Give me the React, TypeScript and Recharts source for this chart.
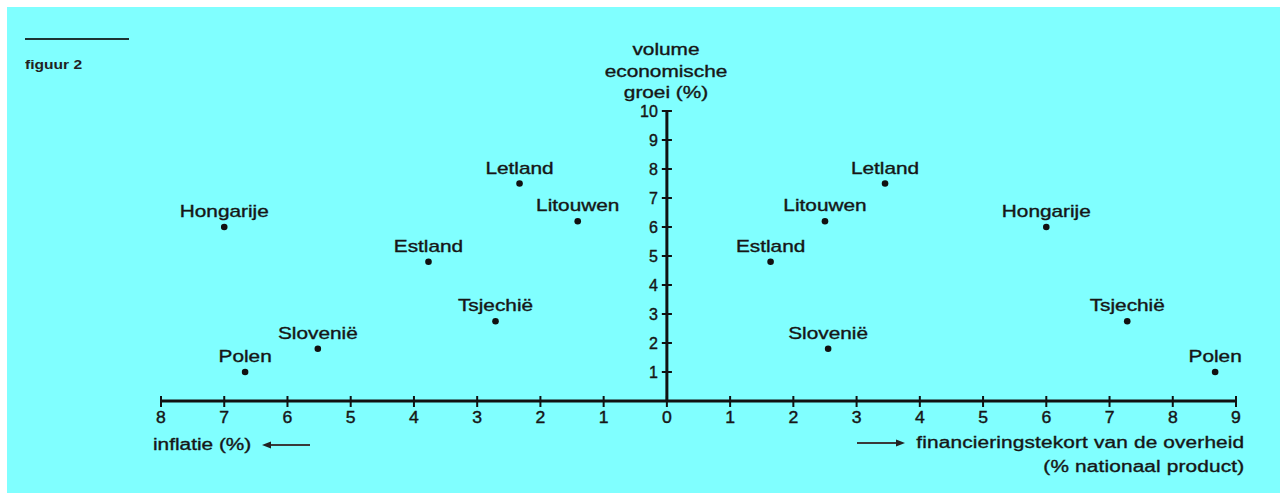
import { ReferenceLine, Scatter, ScatterChart, XAxis, YAxis } from "recharts";

const countries = ["Hongarije", "Polen", "Slovenië", "Estland", "Tsjechië", "Letland", "Litouwen"];
const growth = [6.0, 1.0, 1.8, 4.8, 2.75, 7.5, 6.2];
const inflation = [7.0, 6.67, 5.52, 3.77, 2.71, 2.33, 1.41];
const deficit = [6.0, 8.67, 2.55, 1.64, 7.28, 3.45, 2.5];

const xTicks = [-8, -7, -6, -5, -4, -3, -2, -1, 0, 1, 2, 3, 4, 5, 6, 7, 8, 9];
const yTicks = [1, 2, 3, 4, 5, 6, 7, 8, 9, 10];

const inflationPoints = countries.map((name, i) => ({ name, x: -inflation[i], y: growth[i] }));
const deficitPoints = countries.map((name, i) => ({ name, x: deficit[i], y: growth[i] }));

const FONT = '"Liberation Sans", Arial, Helvetica, sans-serif';
const INK = "#161616";
const AXIS = "#111";
const STRETCH = 1.3;

// the scan is stretched sideways, so the lettering is widened instead of spaced
const wide = (origin: string) => ({
  fontFamily: FONT,
  fontSize: 16,
  color: INK,
  whiteSpace: "nowrap" as const,
  WebkitTextStroke: "0.35px #161616",
  transform: `scaleX(${STRETCH})`,
  transformOrigin: origin,
});

function CountryDot(props: any) {
  const { cx, cy, payload } = props;
  return (
    <g>
      <circle cx={cx} cy={cy} r={3.3} fill={AXIS} />
      <text
        transform={`translate(${cx} ${cy - 10}) scale(${STRETCH} 1)`}
        textAnchor="middle"
        fontFamily={FONT}
        fontSize={16}
        fill={INK}
        stroke={INK}
        strokeWidth={0.35}
      >
        {payload.name}
      </text>
    </g>
  );
}

function XTick(props: any) {
  const { x, y, payload } = props;
  return (
    <g>
      <line x1={x} x2={x} y1={y - 5} y2={y + 6} stroke={AXIS} strokeWidth={2} />
      <text
        transform={`translate(${x} ${y + 22}) scale(1.1 1)`}
        textAnchor="middle"
        fontFamily={FONT}
        fontSize={16}
        fill={INK}
        stroke={INK}
        strokeWidth={0.4}
      >
        {Math.abs(payload.value)}
      </text>
    </g>
  );
}

function YTickLabel(props: any) {
  const { viewBox, value } = props;
  return (
    <text
      x={viewBox.x - 4}
      y={viewBox.y + 5.5}
      textAnchor="end"
      fontFamily={FONT}
      fontSize={16}
      fill={INK}
      stroke={INK}
      strokeWidth={0.4}
    >
      {value}
    </text>
  );
}

function Arrow({ dir }: { dir: "left" | "right" }) {
  return (
    <svg width={48} height={10} style={{ display: "block" }}>
      {dir === "left" ? (
        <>
          <line x1={6} x2={48} y1={5} y2={5} stroke="#3a3a3a" strokeWidth={2} />
          <polygon points="0,5 9,1.5 9,8.5" fill="#222" />
        </>
      ) : (
        <>
          <line x1={0} x2={42} y1={5} y2={5} stroke="#3a3a3a" strokeWidth={2} />
          <polygon points="48,5 39,1.5 39,8.5" fill="#222" />
        </>
      )}
    </svg>
  );
}

export default function App() {
  return (
    <div
      style={{
        position: "fixed",
        left: 7,
        top: 7,
        width: 1273,
        height: 486,
        background: "#80ffff",
        overflow: "hidden",
      }}
    >
      <div style={{ position: "absolute", left: 18, top: 31, width: 104, height: 2, background: "#1c3434" }} />
      <div
        style={{
          position: "absolute",
          left: 18,
          top: 51,
          fontFamily: FONT,
          fontSize: 12,
          fontWeight: 700,
          lineHeight: "14px",
          color: "#222",
          transform: "scaleX(1.3)",
          transformOrigin: "left center",
          whiteSpace: "nowrap",
        }}
      >
        figuur 2
      </div>

      <div
        style={{
          ...wide("center top"),
          position: "absolute",
          left: 558,
          top: 32,
          width: 202,
          textAlign: "center",
          lineHeight: "21.5px",
        }}
      >
        volume
        <br />
        economische
        <br />
        groei (%)
      </div>

      <ScatterChart width={1273} height={486} margin={{ top: 104, right: 44, left: 154, bottom: 62 }}>
        <XAxis
          type="number"
          dataKey="x"
          domain={[-8, 9]}
          ticks={xTicks}
          interval={0}
          height={30}
          tickSize={0}
          tickMargin={0}
          tickLine={false}
          axisLine={{ stroke: AXIS, strokeWidth: 3 }}
          tick={<XTick />}
        />
        <YAxis type="number" dataKey="y" domain={[0, 10]} hide width={0} />
        <ReferenceLine x={0} stroke={AXIS} strokeWidth={3} />
        {yTicks.map((v) => (
          <ReferenceLine
            key={`ytick-${v}`}
            segment={[
              { x: -0.08, y: v },
              { x: 0.08, y: v },
            ]}
            stroke={AXIS}
            strokeWidth={2}
            label={<YTickLabel value={v} />}
          />
        ))}
        <Scatter data={inflationPoints} shape={<CountryDot />} isAnimationActive={false} />
        <Scatter data={deficitPoints} shape={<CountryDot />} isAnimationActive={false} />
      </ScatterChart>

      <div style={{ ...wide("left center"), position: "absolute", left: 146, top: 428, lineHeight: "20px" }}>
        inflatie (%)
      </div>
      <div style={{ position: "absolute", left: 255, top: 433 }}>
        <Arrow dir="left" />
      </div>

      <div style={{ position: "absolute", left: 850, top: 431 }}>
        <Arrow dir="right" />
      </div>
      <div
        style={{
          ...wide("right center"),
          position: "absolute",
          right: 36,
          top: 424,
          lineHeight: "24px",
          textAlign: "right",
          letterSpacing: 0.12,
        }}
      >
        financieringstekort van de overheid
        <br />
        (% nationaal product)
      </div>
    </div>
  );
}
